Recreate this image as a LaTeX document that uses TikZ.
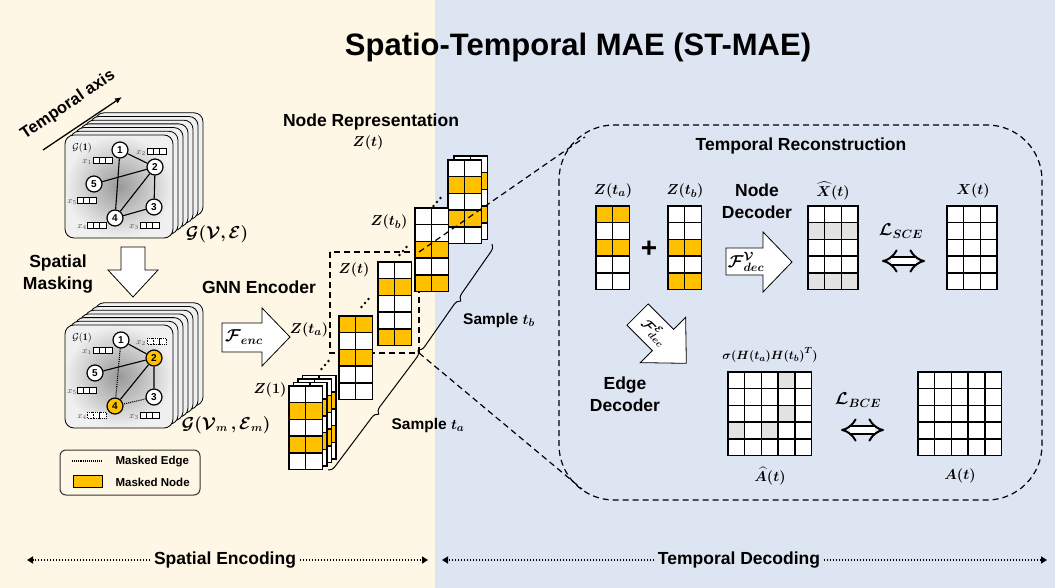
\documentclass[tikz,border=0pt]{standalone}
\usepackage{fontspec}
\usepackage{amsmath,bm}
\usetikzlibrary{arrows.meta,decorations.pathreplacing,calc}
\newfontfamily\nsans{Liberation Sans}
\definecolor{cream}{HTML}{FFF7E5}
\definecolor{paleblue}{HTML}{DEE5F2}
\definecolor{og}{HTML}{FFC000}
\definecolor{lg}{HTML}{E2E2E2}
\colorlet{w}{white}
\colorlet{o}{og}
\newcommand\cs{16.7}
% grid matrix: x y {{row1},{row2},...}
\newcommand\gmat[3]{\foreach \row [count=\rr from 0] in {#3}{\foreach \cc [count=\kk from 0] in \row {\filldraw[mat,fill=\cc] ({#1+\kk*\cs},{#2+\rr*\cs}) rectangle ++(\cs,\cs);}}}
\newcommand\feat[3][]{\foreach \k in {0,1,2}{\draw[line width=0.7pt,fill=white,#1] ({#2+\k*6.3},#3) rectangle ++(6.3,6);}}
\newcommand\tdots[2]{\fill (#1-3.5,#2+4) circle (1.3) (#1,#2) circle (1.3) (#1+3.5,#2-4) circle (1.3);}
\tikzset{
 lbl/.style={font=\nsans\bfseries\fontsize{17.5}{21.5}\selectfont, align=center},
 mlbl/.style={font=\fontsize{15.5}{17}\selectfont},
 xl/.style={font=\fontsize{9}{9}\selectfont, text=gray!60!black, inner sep=0pt},
 mat/.style={draw=black, line width=1.5pt},
 gnode/.style={circle, draw=black, line width=1.2pt, fill=white, minimum size=16pt, inner sep=0pt, font=\nsans\bfseries\fontsize{10}{10}\selectfont},
 mnode/.style={gnode, fill=og},
 gedge/.style={line width=1.1pt},
 medge/.style={line width=1.1pt, densely dotted},
 blockarrow/.style={draw=black, fill=white, line width=0.8pt},
 card/.style={draw=black, line width=0.8pt, fill=gray!12, rounded corners=9pt},
 bigdash/.style={line width=1.2pt, dash pattern=on 6pt off 4pt},
 botarrow/.style={line width=2.4pt, dash pattern=on 1.4pt off 1.6pt, -{Triangle[length=6pt,width=7pt]}},
 brc/.style={line width=1pt, decorate, decoration={brace, amplitude=7pt, mirror}},
 iff/.style={line width=2pt, double distance=6pt, {Implies}-{Implies}},
}
\begin{document}
\begin{tikzpicture}[x=1pt,y=-1pt]
\useasboundingbox (0,0) rectangle (1055,588);
\fill[cream] (0,0) rectangle (435,588);
\fill[paleblue] (435,0) rectangle (1055,588);

\node[font=\nsans\bfseries\fontsize{31}{36}\selectfont] (title) at (578,47) {Spatio-Temporal MAE (ST-MAE)};

% temporal axis
\coordinate (taS) at (43,150); \coordinate (taE) at (122,97);
\draw[line width=1.3pt,-{Latex[length=7pt,width=6pt]}] (taS) -- (taE);
\node[lbl, font=\nsans\bfseries\fontsize{16.5}{20}\selectfont, rotate=34, inner sep=1pt] (tax) at (68,105) {Temporal axis};

% ---------- graph card 1 ----------
\foreach \i in {6,5,...,1} \draw[card] ({65+5*\i},{135-3.7*\i}) rectangle ++(108,103);
\shade[rounded corners=9pt, inner color=gray!80, outer color=gray!12] (65,135) rectangle ++(108,103);
\draw[line width=0.8pt, rounded corners=9pt] (65,135) rectangle ++(108,103);
\node[font=\fontsize{10}{10}\selectfont] (g1) at (82,148) {$\mathcal{G}\mathbf{(1)}$};
\node[gnode] (a1) at (120,150) {1};
\node[gnode] (a2) at (155,167) {2};
\node[gnode] (a5) at (94,184) {5};
\node[gnode] (a3) at (154,207) {3};
\node[gnode] (a4) at (115,218) {4};
\draw[gedge] (a1)--(a2) (a1)--(a4) (a2)--(a5) (a2)--(a4) (a2)--(a3) (a3)--(a4);
\feat{93}{157} \node[xl] (ax1) at (87,162) {$x_1$};
\feat{147}{148} \node[xl] (ax2) at (141,153) {$x_2$};
\feat{77}{197} \node[xl] (ax5) at (72,202) {$x_5$};
\feat{87}{222} \node[xl] (ax4) at (82,227) {$x_4$};
\feat{140}{222} \node[xl] (ax3) at (134,227) {$x_3$};
\node[font=\fontsize{16}{16}\selectfont] (gve) at (217,234) {$\bm{\mathcal{G}(\mathcal{V},\mathcal{E})}$};

% spatial masking
\node[lbl] (sm) at (58,274) {Spatial\\Masking};
\draw[blockarrow] (121,247) -- (145,247) -- (145,270) -- (158,270) -- (133,297) -- (108,270) -- (121,270) -- cycle;

% ---------- graph card 2 ----------
\begin{scope}[shift={(0,190)}]
\foreach \i in {6,5,...,1} \draw[card] ({65+5*\i},{135-3.7*\i}) rectangle ++(108,103);
\shade[rounded corners=9pt, inner color=gray!80, outer color=gray!12] (65,135) rectangle ++(108,103);
\draw[line width=0.8pt, rounded corners=9pt] (65,135) rectangle ++(108,103);
\node[font=\fontsize{10}{10}\selectfont] (g2) at (82,148) {$\mathcal{G}\mathbf{(1)}$};
\node[gnode] (b1) at (121,150) {1};
\node[mnode] (b2) at (154,168) {2};
\node[gnode] (b5) at (95,183) {5};
\node[gnode] (b3) at (154,207) {3};
\node[mnode] (b4) at (115,216) {4};
\draw[gedge] (b1)--(b2) (b2)--(b5) (b2)--(b4) (b2)--(b3);
\draw[medge] (b1)--(b4) (b3)--(b4);
\feat{93}{157} \node[xl] (bx1) at (87,162) {$x_1$};
\feat[densely dotted]{147}{148} \node[xl] (bx2) at (141,153) {$x_2$};
\feat{77}{197} \node[xl] (bx5) at (72,202) {$x_5$};
\feat[densely dotted]{87}{222} \node[xl] (bx4) at (82,227) {$x_4$};
\feat{140}{222} \node[xl] (bx3) at (134,227) {$x_3$};
\end{scope}
\node[font=\fontsize{16}{16}\selectfont] (gvem) at (226,425) {$\bm{\mathcal{G}(\mathcal{V}_m\,,\mathcal{E}_m)}$};

% legend
\draw[line width=1pt, draw=gray!40!black, rounded corners=6pt] (60,450) rectangle (200,495);
\draw[line width=1.1pt, densely dotted] (72,461) -- (102,461);
\filldraw[fill=og, draw=black, line width=1pt] (73,475) rectangle (102,487);
\node[anchor=west, font=\nsans\bfseries\fontsize{11.5}{13}\selectfont] (lme) at (112,462) {Masked Edge};
\node[anchor=west, font=\nsans\bfseries\fontsize{11.5}{13}\selectfont] (lmn) at (112,482) {Masked Node};

% GNN encoder
\node[lbl] (gnn) at (259,287) {GNN Encoder};
\draw[blockarrow] (222,323) -- (262,323) -- (262,308) -- (290,337) -- (262,366) -- (262,352) -- (222,352) -- cycle;
\node[font=\fontsize{17.5}{17.5}\selectfont] (fenc) at (244,337) {$\bm{\mathcal{F}_{enc}}$};

% node representation
\node[lbl] (nrep) at (371,122) {Node Representation};
\node[mlbl] (zt0) at (368,143) {$\bm{Z(t)}$};
\draw[bigdash] (330,252) rectangle (419,353);
\coordinate (rtr) at (419,252);
\coordinate (rbr) at (419,353);

\foreach \i in {3,2,1} {\gmat{289+4.5*\i}{386-3.5*\i}{{w,w},{o,o},{w,w},{o,o},{w,w}}}
\gmat{289}{386}{{w,w},{o,o},{w,w},{o,o},{w,w}}
\gmat{339}{316}{{o,o},{w,w},{o,o},{w,w},{w,w}}
\gmat{378}{262}{{w,w},{o,o},{w,w},{w,w},{o,o}}
\gmat{454}{156}{{w,w},{o,o},{w,w},{o,o},{w,w}}
\gmat{448}{160}{{w,w},{o,o},{w,w},{o,o},{w,w}}
\gmat{415}{208}{{w,w},{w,w},{o,o},{w,w},{o,o}}

\tdots{325}{365}
\tdots{365}{303}
\tdots{403}{251}
\tdots{437}{202}

\node[mlbl] (z1) at (270,390) {$\bm{Z(1)}$};
\node[mlbl] (zta) at (309,330) {$\bm{Z(t_a)}$};
\node[mlbl] (zt) at (354,270) {$\bm{Z(t)}$};
\node[mlbl] (ztb) at (389,222) {$\bm{Z(t_b)}$};

% braces
\coordinate (braA) at (328,470);
\coordinate (braB) at (418,350);
\coordinate (braC) at (492,244);
\draw[brc] (braA) -- (braB);
\draw[brc] (braB) -- (braC);
\node[font=\nsans\bfseries\fontsize{15.5}{18}\selectfont] (sta) at (428,425) {Sample $\bm{t_a}$};
\node[font=\nsans\bfseries\fontsize{15.5}{18}\selectfont] (stb) at (499,320) {Sample $\bm{t_b}$};

% big dashed box
\draw[bigdash, rounded corners=55pt] (559,125) rectangle (1042,500);
\coordinate (btl) at (585,137);
\coordinate (bbl) at (582,489);
\draw[bigdash] (rtr) -- (btl);
\draw[bigdash] (rbr) -- (bbl);

% temporal reconstruction
\node[lbl] (trec) at (801,146) {Temporal Reconstruction};
\node[mlbl] (rza) at (613,191) {$\bm{Z(t_a)}$};
\gmat{596}{206}{{o,o},{w,w},{o,o},{w,w},{w,w}}
\node[font=\nsans\bfseries\fontsize{28}{28}\selectfont] (plus) at (649,249) {+};
\node[mlbl] (rzb) at (685,191) {$\bm{Z(t_b)}$};
\gmat{668}{206}{{w,w},{w,w},{o,o},{w,w},{o,o}}
\node[lbl] (ndec) at (757,201) {Node\\Decoder};
\draw[blockarrow] (726,248) -- (763,248) -- (763,232) -- (792,262) -- (763,292) -- (763,275) -- (726,275) -- cycle;
\node[font=\fontsize{17}{17}\selectfont] (fdv) at (746,262) {$\bm{\mathcal{F}^{\mathcal{V}}_{dec}}$};
\node[mlbl] (xhat) at (833,191) {$\bm{\widehat{X}(t)}$};
\gmat{808}{206}{{w,w,w},{lg,lg,lg},{w,w,w},{w,w,w},{lg,lg,lg}}
\node[font=\fontsize{16.5}{16.5}\selectfont] (lsce) at (901,231) {$\bm{\mathcal{L}_{SCE}}$};
\coordinate (i1a) at (882,261); \coordinate (i1b) at (925,261);
\draw[iff] (i1a) -- (i1b);
\node[mlbl] (xt) at (973,191) {$\bm{X(t)}$};
\gmat{947}{206}{{w,w,w},{w,w,w},{w,w,w},{w,w,w},{w,w,w}}

% edge decoder
\begin{scope}[shift={(663,340)}, rotate=-45]
\draw[blockarrow] (-36,-15) -- (0,-15) -- (0,-32) -- (33,0) -- (0,32) -- (0,15) -- (-36,15) -- cycle;
\node[font=\fontsize{14}{14}\selectfont, rotate=-45] (fde) at (-12,0) {$\bm{\mathcal{F}^{\mathcal{E}}_{dec}}$};
\end{scope}
\node[lbl] (edec) at (625,394) {Edge\\Decoder};
\node[font=\fontsize{13}{13}\selectfont] (sig) at (770,355) {$\bm{\sigma(H(t_a)H(t_b)^T)}$};
\gmat{728}{372}{{w,w,w,lg,w},{w,w,w,w,w},{w,w,w,lg,w},{lg,w,lg,w,w},{w,w,w,w,w}}
\node[mlbl] (ahat) at (770,476) {$\bm{\widehat{A}(t)}$};
\node[font=\fontsize{16.5}{16.5}\selectfont] (lbce) at (858,400) {$\bm{\mathcal{L}_{BCE}}$};
\coordinate (i2a) at (841,430); \coordinate (i2b) at (884,430);
\draw[iff] (i2a) -- (i2b);
\gmat{918}{372}{{w,w,w,w,w},{w,w,w,w,w},{w,w,w,w,w},{w,w,w,w,w},{w,w,w,w,w}}
\node[mlbl] (at) at (960,476) {$\bm{A(t)}$};

% bottom
\node[lbl] (senc) at (225,560) {Spatial Encoding};
\node[lbl] (tdec) at (739,560) {Temporal Decoding};
\coordinate (s1) at (27,560); \coordinate (s2) at (428,560);
\coordinate (t1) at (442,560); \coordinate (t2) at (1047,560);
\draw[botarrow] (senc.west) -- (s1);
\draw[botarrow] (senc.east) -- (s2);
\draw[botarrow] (tdec.west) -- (t1);
\draw[botarrow] (tdec.east) -- (t2);
\end{tikzpicture}
\end{document}
